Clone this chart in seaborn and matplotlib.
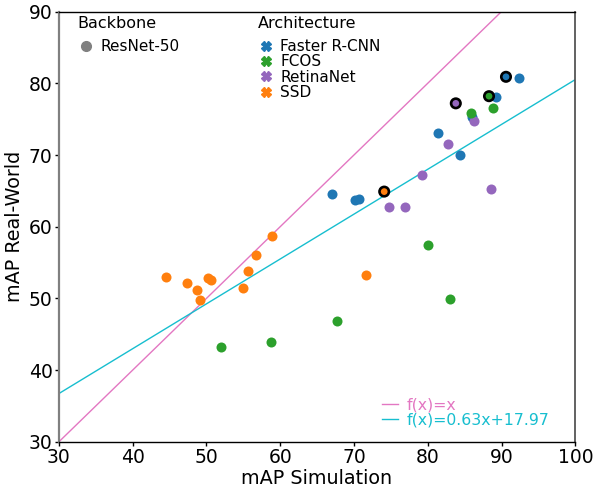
import matplotlib
matplotlib.use("Agg")
import matplotlib.pyplot as plt
from matplotlib.lines import Line2D
import numpy as np
import pandas as pd
import seaborn as sns

# Detector results: simulation mAP vs. real-world mAP (all ResNet-50 backbone)
faster_sim = [67.0, 70.1, 70.7, 81.4, 84.4, 86.0, 89.3, 90.6, 92.4]
faster_real = [64.5, 63.7, 63.8, 73.0, 70.0, 75.3, 78.1, 80.9, 80.8]
faster_best = [False, False, False, False, False, False, False, True, False]

fcos_sim = [52.0, 58.7, 67.7, 80.1, 83.0, 85.8, 88.9, 88.3]
fcos_real = [43.2, 43.9, 46.9, 57.5, 49.9, 75.9, 76.6, 78.2]
fcos_best = [False, False, False, False, False, False, False, True]

retina_sim = [74.7, 76.9, 79.2, 82.7, 86.3, 88.6, 83.8]
retina_real = [62.8, 62.8, 67.2, 71.6, 74.8, 65.2, 77.2]
retina_best = [False, False, False, False, False, False, True]

ssd_sim = [44.6, 47.4, 48.8, 49.1, 50.2, 50.6, 55.0, 55.7, 56.7, 58.9, 71.7, 74.1]
ssd_real = [53.0, 52.1, 51.2, 49.8, 52.9, 52.6, 51.5, 53.8, 56.0, 58.7, 53.3, 64.9]
ssd_best = [False] * 11 + [True]

architectures = ["Faster R-CNN", "FCOS", "RetinaNet", "SSD"]
arch_colors = ["#1f77b4", "#2ca02c", "#9467bd", "#ff7f0e"]

# linear fit of real-world vs. simulation mAP
fit_slope = 0.6255
fit_intercept = 17.97

x_ticks = [30, 40, 50, 60, 70, 80, 90, 100]
y_ticks = [30, 40, 50, 60, 70, 80, 90]

frames = []
for name, sim, real, best in [
    ("Faster R-CNN", faster_sim, faster_real, faster_best),
    ("FCOS", fcos_sim, fcos_real, fcos_best),
    ("RetinaNet", retina_sim, retina_real, retina_best),
    ("SSD", ssd_sim, ssd_real, ssd_best),
]:
    frames.append(pd.DataFrame({"sim": sim, "real": real, "best": best,
                                "Architecture": name, "Backbone": "ResNet-50"}))
df = pd.concat(frames, ignore_index=True)
palette = dict(zip(architectures, arch_colors))

plt.rcParams["font.family"] = ["DejaVu Sans"]

fig = plt.figure(figsize=(5.95, 4.88), dpi=100)
ax = fig.add_axes([0.0987, 0.0943, 0.8683, 0.8821])

# reference lines
xs = np.array([30, 100])
ax.plot(xs, xs, color="#e377c2", lw=1, zorder=1)
ax.plot(xs, fit_slope * xs + fit_intercept, color="#17becf", lw=1, zorder=1)

order = ["Faster R-CNN", "SSD", "RetinaNet", "FCOS"]
for name in order:
    sub = df[(df["Architecture"] == name) & (~df["best"])]
    sns.scatterplot(data=sub, x="sim", y="real", color=palette[name], s=52,
                    linewidth=0, ax=ax, legend=False, zorder=3)
best = df[df["best"]]
sns.scatterplot(data=best, x="sim", y="real", hue="Architecture", palette=palette,
                s=46, edgecolor="black", linewidth=1.9, ax=ax, legend=False, zorder=4)

ax.set_xlim(30, 100)
ax.set_ylim(30, 90)
ax.set_xticks(x_ticks)
ax.set_yticks(y_ticks)
ax.tick_params(axis="both", labelsize=13.5, length=3, width=1, pad=1.5,
               direction="out", colors="black")
ax.set_xlabel("mAP Simulation", fontsize=13.8, labelpad=1)
ax.set_ylabel("mAP Real-World", fontsize=13.8, labelpad=3)

for side in ["top", "bottom"]:
    ax.spines[side].set_color("black")
    ax.spines[side].set_linewidth(1)
ax.spines["right"].set_color("#555555")
ax.spines["right"].set_linewidth(1.3)
ax.spines["left"].set_color("#808080")
ax.spines["left"].set_linewidth(1.6)

# legends
legend_kw = dict(frameon=False, fontsize=11, title_fontsize=11.5,
                 handletextpad=0.4, handlelength=1.1, labelspacing=0.02,
                 alignment="left", borderaxespad=0.3)

bb_handles = [Line2D([], [], marker="o", ls="", color="gray", markersize=7)]
leg1 = ax.legend(bb_handles, ["ResNet-50"], title="Backbone", loc="upper left",
                 bbox_to_anchor=(0.016, 1.015), **legend_kw)
leg1._legend_box.sep = 6
ax.add_artist(leg1)

arch_handles = [Line2D([], [], marker="X", ls="", color=c, markersize=7)
                for c in arch_colors]
leg2 = ax.legend(arch_handles, architectures, title="Architecture", loc="upper left",
                 bbox_to_anchor=(0.364, 1.015), **legend_kw)
leg2._legend_box.sep = 6
ax.add_artist(leg2)

line_handles = [Line2D([], [], color="#e377c2", lw=1), Line2D([], [], color="#17becf", lw=1)]
leg3 = ax.legend(line_handles, ["f(x)=x", f"f(x)={fit_slope:.2f}x+{fit_intercept:.2f}"],
                 loc="lower right", bbox_to_anchor=(0.978, 0.0), frameon=False,
                 fontsize=11.3, handlelength=1.0, handletextpad=0.6, labelspacing=0.05,
                 labelcolor="linecolor")

fig.savefig("out.png", dpi=100)
